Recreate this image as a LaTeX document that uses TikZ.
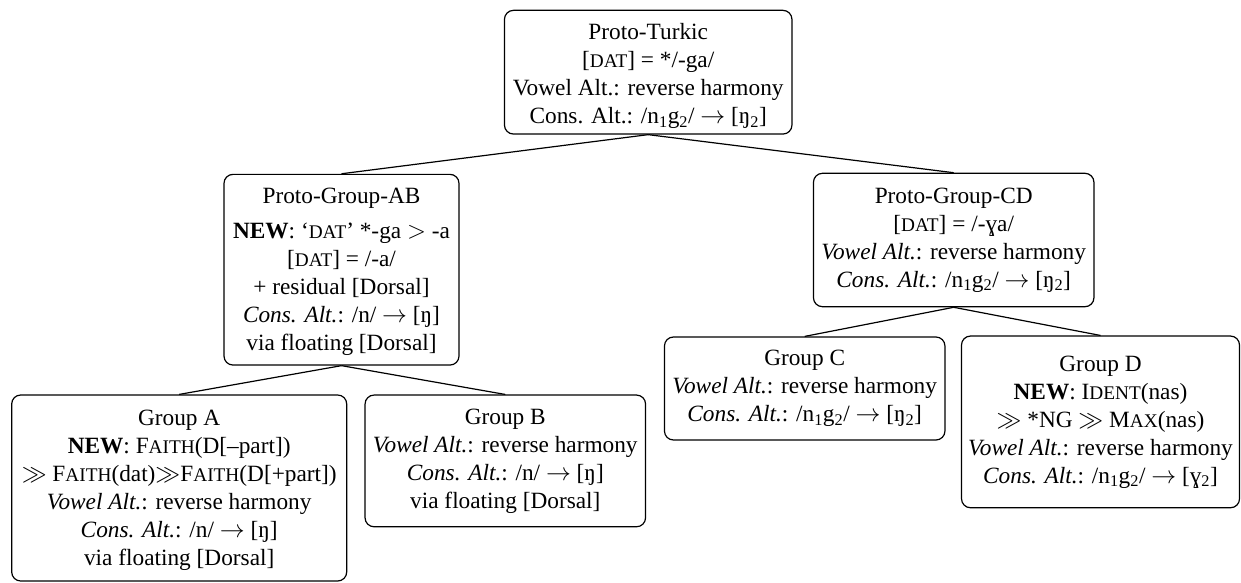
\documentclass[tikz,border=0pt]{standalone}
\usepackage{fontspec}
\setmainfont{Liberation Serif}
\newcommand{\smc}[1]{{\fontsize{19.3}{28}\selectfont #1}}
\newcommand{\sub}[1]{\textsubscript{#1}}
\newcommand{\lift}[1]{\rule{0pt}{#1}}
\tikzset{
  box/.style={draw, rounded corners=9pt, line width=1.2pt, align=center, inner sep=0pt,
    font=\fontsize{23.3}{28}\selectfont},
  link/.style={line width=1.2pt}
}
\begin{document}
\begin{tikzpicture}[x=1pt,y=1pt]
\useasboundingbox (0,0) rectangle (1241,-583);
\node[box, minimum width=287.5pt, minimum height=123.7pt] (pt) at (648.2,-72.2)
  {\lift{23.3pt}Proto-Turkic\\ {[}\smc{DAT}] = */-ga/\\ Vowel Alt.: reverse harmony\\
   Cons. Alt.: /n\sub{1}g\sub{2}/ $\rightarrow$ [ŋ\sub{2}]};
\node[box, minimum width=235pt, minimum height=190.7pt] (ab) at (341.5,-269.7)
  {\lift{19.1pt}Proto-Group-AB\\[6.7pt] \textbf{NEW}: ‘\smc{DAT}’ *-ga $>$ -a\\ {[}\smc{DAT}] = /-a/\\
   + residual [Dorsal]\\ \textit{Cons. Alt.}: /n/ $\rightarrow$ [ŋ]\\ via floating [Dorsal]};
\node[box, minimum width=280.5pt, minimum height=133.4pt] (cd) at (953.7,-240)
  {Proto-Group-CD\\ {[}\smc{DAT}] = /-ɣa/\\ \textit{Vowel Alt.}: reverse harmony\\
   \textit{Cons. Alt.}: /n\sub{1}g\sub{2}/ $\rightarrow$ [ŋ\sub{2}]};
\node[box, minimum width=335pt, minimum height=186pt] (ga) at (179.2,-488)
  {\lift{19.1pt}Group A\\ \textbf{NEW}: F\smc{AITH}(D[–part])\\
   $\gg$ F\smc{AITH}(dat)$\gg$F\smc{AITH}(D[+part])\\
   \textit{Vowel Alt.}: reverse harmony\\ \textit{Cons. Alt.}: /n/ $\rightarrow$ [ŋ]\\
   via floating [Dorsal]};
\node[box, minimum width=280.5pt, minimum height=131.7pt] (gb) at (505.3,-460.9)
  {Group B\\ \textit{Vowel Alt.}: reverse harmony\\ \textit{Cons. Alt.}: /n/ $\rightarrow$ [ŋ]\\
   via floating [Dorsal]};
\node[box, minimum width=280.5pt, minimum height=103pt] (gc) at (804.7,-388.5)
  {Group C\\ \textit{Vowel Alt.}: reverse harmony\\
   \textit{Cons. Alt.}: /n\sub{1}g\sub{2}/ $\rightarrow$ [ŋ\sub{2}]};
\node[box, minimum width=278pt, minimum height=171.7pt] (gd) at (1100.5,-421.9)
  {Group D\\ \textbf{NEW}: I\smc{DENT}(nas)\\ $\gg$ *NG $\gg$ M\smc{AX}(nas)\\
   \textit{Vowel Alt.}: reverse harmony\\
   \textit{Cons. Alt.}: /n\sub{1}g\sub{2}/ $\rightarrow$ [ɣ\sub{2}]};
\draw[link] (pt.south) -- (ab.north);
\draw[link] (pt.south) -- (cd.north);
\draw[link] (ab.south) -- (ga.north);
\draw[link] (ab.south) -- (gb.north);
\draw[link] (cd.south) -- (gc.north);
\draw[link] (cd.south) -- (gd.north);
\end{tikzpicture}
\end{document}
